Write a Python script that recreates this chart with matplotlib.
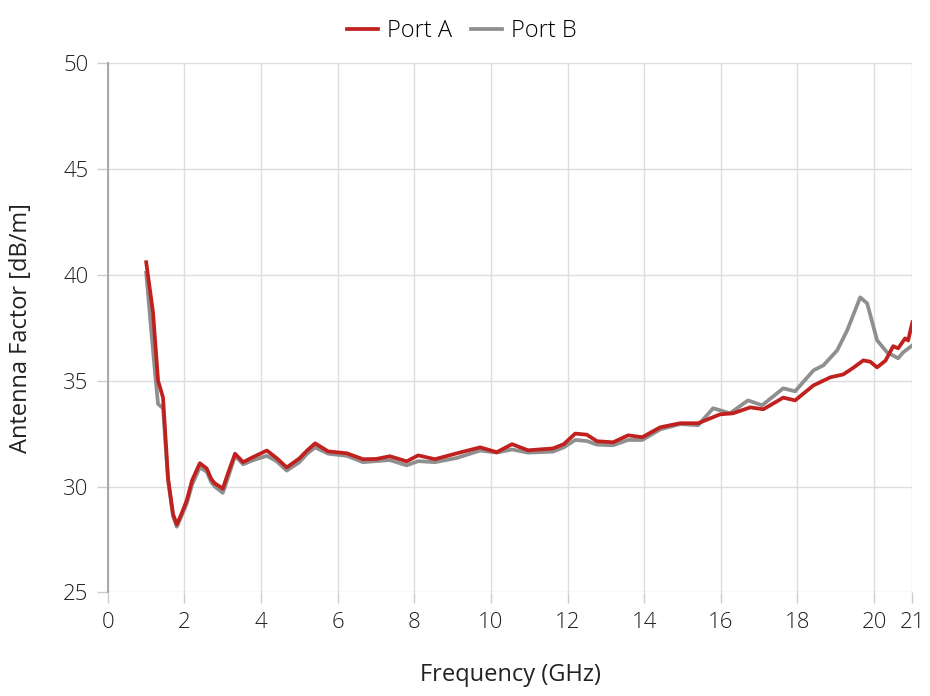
import matplotlib.pyplot as plt

plt.rcParams['font.family'] = ['Open Sans', 'DejaVu Sans']
plt.rcParams['font.weight'] = 'light'

# Port A (red)
freq_a = [1.0, 1.18, 1.31, 1.44, 1.57, 1.70, 1.80, 1.92, 2.06, 2.2, 2.40, 2.58, 2.70, 2.79, 3.0,
          3.15, 3.32, 3.53, 3.8, 4.15, 4.4, 4.67, 5.0, 5.2, 5.41, 5.75, 6.24, 6.66, 7.0, 7.36,
          7.80, 8.10, 8.54, 9.11, 9.72, 10.15, 10.55, 10.97, 11.62, 11.9, 12.2, 12.5, 12.77,
          13.19, 13.58, 13.95, 14.42, 14.94, 15.41, 15.98, 16.32, 16.77, 17.11, 17.63, 17.94,
          18.42, 18.86, 19.2, 19.45, 19.72, 19.9, 20.08, 20.3, 20.5, 20.63, 20.81, 20.89, 21.0]
port_a = [40.6, 38.2, 35.0, 34.2, 30.4, 28.7, 28.2, 28.7, 29.35, 30.3, 31.1, 30.85, 30.35, 30.15, 29.9,
          30.7, 31.55, 31.15, 31.4, 31.7, 31.35, 30.9, 31.33, 31.7, 32.04, 31.66, 31.57, 31.29, 31.3, 31.43,
          31.19, 31.47, 31.29, 31.57, 31.85, 31.62, 32.0, 31.71, 31.8, 32.0, 32.5, 32.45, 32.14,
          32.09, 32.42, 32.33, 32.8, 32.99, 32.99, 33.41, 33.46, 33.74, 33.65, 34.2, 34.07,
          34.78, 35.16, 35.3, 35.6, 35.96, 35.9, 35.63, 35.95, 36.63, 36.53, 37.0, 36.9, 37.76]

# Port B (grey)
freq_b = [1.0, 1.15, 1.25, 1.31, 1.44, 1.57, 1.70, 1.80, 1.92, 2.06, 2.2, 2.40, 2.58, 2.70, 2.79, 3.0,
          3.15, 3.32, 3.53, 3.8, 4.15, 4.4, 4.67, 5.0, 5.2, 5.41, 5.75, 6.24, 6.66, 7.0, 7.36,
          7.80, 8.10, 8.54, 9.11, 9.72, 10.15, 10.55, 10.97, 11.62, 11.9, 12.2, 12.5, 12.77,
          13.19, 13.58, 13.95, 14.42, 14.94, 15.41, 15.8, 16.24, 16.71, 17.08, 17.63, 17.94,
          18.42, 18.68, 19.04, 19.3, 19.5, 19.64, 19.82, 20.08, 20.34, 20.63, 20.76, 21.0]
port_b = [40.1, 37.0, 35.0, 33.9, 33.7, 30.3, 28.6, 28.1, 28.6, 29.2, 30.1, 30.9, 30.7, 30.2, 30.0, 29.7,
          30.5, 31.45, 31.05, 31.25, 31.45, 31.2, 30.75, 31.15, 31.55, 31.85, 31.55, 31.45, 31.15, 31.2, 31.25,
          31.0, 31.2, 31.15, 31.35, 31.7, 31.6, 31.75, 31.6, 31.65, 31.85, 32.2, 32.15, 31.98,
          31.95, 32.2, 32.2, 32.7, 32.95, 32.9, 33.7, 33.46, 34.07, 33.84, 34.64, 34.5,
          35.49, 35.73, 36.44, 37.38, 38.3, 38.94, 38.66, 36.91, 36.34, 36.06, 36.34, 36.67]

fig = plt.figure(figsize=(9.3, 6.96), dpi=100)
ax = fig.add_axes([0.116, 0.149, 0.865, 0.760])

ax.plot(freq_b, port_b, color='#8f8f8f', lw=2.7, label='Port B', solid_joinstyle='round', zorder=3)
ax.plot(freq_a, port_a, color='#c0201e', lw=2.7, label='Port A', solid_joinstyle='round', zorder=4)

ax.set_xlim(0, 21)
ax.set_ylim(25, 50)
ax.set_xticks([0, 2, 4, 6, 8, 10, 12, 14, 16, 18, 20, 21])
ax.set_yticks([25, 30, 35, 40, 45, 50])
ax.grid(True, color='#dddddd', lw=1)
ax.set_axisbelow(True)
for s in ['top', 'right', 'bottom']:
    ax.spines[s].set_visible(False)
ax.spines['left'].set_color('#aaaaaa')
ax.spines['left'].set_linewidth(1.5)
ax.tick_params(axis='both', colors='#cccccc', labelcolor='#222222', length=8, width=1, labelsize=16, pad=6)

ax.set_xlabel('Frequency (GHz)', fontsize=17, color='#222222', labelpad=22)
ax.set_ylabel('Antenna Factor [dB/m]', fontsize=17, color='#222222', labelpad=22)

h, l = ax.get_legend_handles_labels()
fig.legend(h[::-1], l[::-1], loc='center', bbox_to_anchor=(0.497, 0.955), ncol=2, frameon=False,
           fontsize=17, handlelength=1.3, handletextpad=0.4, columnspacing=0.8)

fig.savefig('out.png', dpi=100)
